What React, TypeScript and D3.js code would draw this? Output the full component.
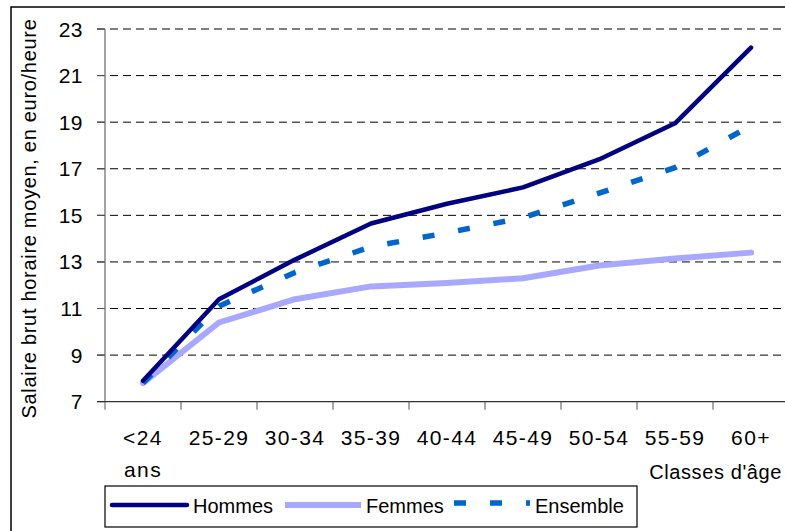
import React from "react";
import * as d3 from "d3";

const categories = ["<24 ans", "25-29", "30-34", "35-39", "40-44", "45-49", "50-54", "55-59", "60+"];
const hommes = [7.9, 11.4, 13.1, 14.65, 15.5, 16.2, 17.4, 18.95, 22.2];
const femmes = [7.8, 10.4, 11.4, 11.95, 12.1, 12.3, 12.85, 13.15, 13.4];
const ensemble = [7.8, 11.1, 12.55, 13.65, 14.25, 14.9, 15.95, 17.05, 18.85];
const yTicks = [7, 9, 11, 13, 15, 17, 19, 21, 23];

const W = 785;
const H = 531;
const FONT = "'Liberation Sans', Arial, sans-serif";

export default function App() {
  const x = d3.scaleBand<string>().domain(categories).range([105, 789]).padding(0);
  const y = d3.scaleLinear().domain([7, 23]).range([401.7, 29]);
  const cx = (c: string) => (x(c) as number) + x.bandwidth() / 2;
  const line = d3
    .line<number>()
    .x((_, i) => cx(categories[i]))
    .y((d) => y(d));

  const series = [
    { name: "Hommes", data: hommes, color: "#000080", width: 4.5, dash: undefined as string | undefined },
    { name: "Femmes", data: femmes, color: "#a8a8ff", width: 6, dash: undefined },
    { name: "Ensemble", data: ensemble, color: "#0066cc", width: 5.5, dash: "12,24" },
  ];
  const drawOrder = [series[1], series[2], series[0]];

  const boundaries = d3.range(categories.length + 1).map((i) => 105 + i * x.bandwidth());

  return (
    <svg width={W} height={H} style={{ position: "absolute", left: 0, top: 0, background: "#fff" }}>
      <rect x={0} y={0} width={W} height={H} fill="#fff" />
      <rect x={11} y={7} width={800} height={560} fill="none" stroke="#000" strokeWidth={1.5} />
      {/* gridlines */}
      {yTicks.map((t) => (
        <g key={t}>
          {t !== 7 && (
            <line x1={97} x2={W} y1={y(t)} y2={y(t)} stroke="#000" strokeWidth={1} strokeDasharray="8,5" />
          )}
          <line x1={97} x2={105} y1={y(t)} y2={y(t)} stroke="#555" strokeWidth={1} />
          <text x={83} y={y(t)} dy="0.36em" textAnchor="end" fontFamily={FONT} fontSize={21} letterSpacing={0.5} fill="#000">
            {t}
          </text>
        </g>
      ))}
      {/* axes */}
      <line x1={105} x2={105} y1={y(23)} y2={y(7)} stroke="#666" strokeWidth={1.2} />
      <line x1={97} x2={W} y1={y(7)} y2={y(7)} stroke="#333" strokeWidth={1.2} />
      {boundaries.map((b, i) => (
        <line key={i} x1={b} x2={b} y1={y(7)} y2={y(7) + 8} stroke="#555" strokeWidth={1} />
      ))}
      {categories.map((c) => {
        const parts = c.split(" ");
        return (
          <text key={c} x={cx(c)} y={445} textAnchor="middle" fontFamily={FONT} fontSize={21} letterSpacing={1.4} fill="#000">
            {parts.map((p, j) => (
              <tspan key={j} x={cx(c)} dy={j === 0 ? 0 : 32}>
                {p}
              </tspan>
            ))}
          </text>
        );
      })}
      {/* series */}
      {drawOrder.map((s) => (
        <path
          key={s.name}
          d={line(s.data) as string}
          fill="none"
          stroke={s.color}
          strokeWidth={s.width}
          strokeDasharray={s.dash}
          strokeLinejoin="round"
          strokeLinecap={s.dash ? "butt" : "round"}
        />
      ))}
      {/* titles */}
      <text
        transform={`translate(36,${(17 + 420) / 2}) rotate(-90)`}
        textAnchor="middle"
        fontFamily={FONT}
        fontSize={20}
        letterSpacing={0.7}
        fill="#000"
      >
        Salaire brut horaire moyen, en euro/heure
      </text>
      <text x={782} y={479} textAnchor="end" fontFamily={FONT} fontSize={20} letterSpacing={0.6} fill="#000">
        Classes d'âge
      </text>
      {/* legend */}
      <rect x={105} y={486} width={532} height={41} fill="#fff" stroke="#000" strokeWidth={1.2} />
      <line x1={112} x2={187} y1={505} y2={505} stroke="#000080" strokeWidth={4.5} strokeLinecap="round" />
      <text x={193} y={513} fontFamily={FONT} fontSize={20} fill="#000">Hommes</text>
      <line x1={285} x2={361} y1={505} y2={505} stroke="#a8a8ff" strokeWidth={6} />
      <text x={366} y={513} fontFamily={FONT} fontSize={20} fill="#000">Femmes</text>
      <line x1={454} x2={530} y1={503} y2={503} stroke="#0066cc" strokeWidth={5.5} strokeDasharray="12,24" />
      <text x={535} y={513} fontFamily={FONT} fontSize={20} fill="#000">Ensemble</text>
    </svg>
  );
}
